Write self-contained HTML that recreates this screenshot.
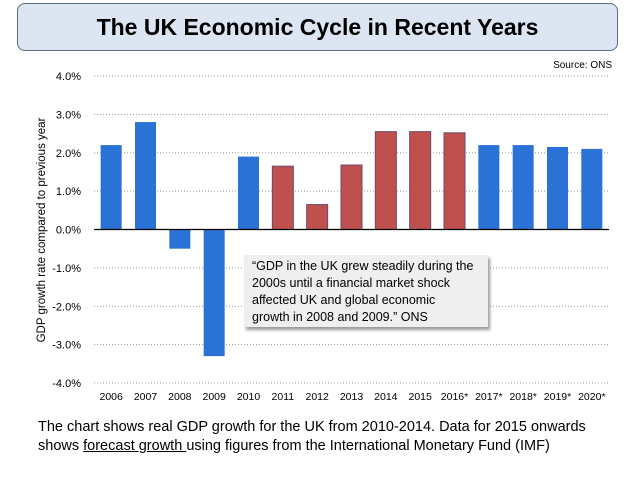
<!DOCTYPE html>
<html><head><meta charset="utf-8"><style>
body{margin:0;width:638px;height:479px;background:#fff;font-family:"Liberation Sans",sans-serif;overflow:hidden;position:relative}
#title{position:absolute;left:17px;top:3px;width:601px;height:48px;border:1.5px solid #5b6b80;border-radius:8px;background:#dce6f2;box-sizing:border-box;text-align:center;font-weight:bold;font-size:23px;line-height:46px;color:#000}
#note{position:absolute;left:38px;top:418px;font-size:14.5px;line-height:19px;color:#000}
#callout{position:absolute;left:244px;top:255px;width:244px;height:72px;background:#efefef;box-shadow:2px 3px 3px #999;font-size:12.5px;line-height:17px;padding:3px 0 0 8px;box-sizing:border-box;color:#000;white-space:nowrap}
</style></head><body>
<div id="title">The UK Economic Cycle in Recent Years</div>
<svg id="chart" width="638" height="479" style="position:absolute;left:0;top:0"></svg>
<div id="callout">“GDP in the UK grew steadily during the<br>2000s until a financial market shock<br>affected UK and global economic<br>growth in 2008 and 2009.” ONS</div>
<div id="note">The chart shows real GDP growth for the UK from 2010-2014. Data for 2015 onwards<br>shows <u>forecast growth </u>using figures from the International Monetary Fund (IMF)</div>
<script>
const categories=["2006","2007","2008","2009","2010","2011","2012","2013","2014","2015","2016*","2017*","2018*","2019*","2020*"];
const values=[2.2,2.8,-0.5,-3.3,1.9,1.65,0.65,1.68,2.55,2.55,2.52,2.2,2.2,2.15,2.1];
const highlighted=[0,0,0,0,0,1,1,1,1,1,1,0,0,0,0];
const ticks=[4,3,2,1,0,-1,-2,-3,-4];
const NS="http://www.w3.org/2000/svg";
const svg=document.getElementById('chart');
const x0=94,x1=609,yTop=76,yBot=383;
const y=v=>yTop+(4-v)/8*(yBot-yTop);
const step=(x1-x0)/categories.length;
const xc=i=>x0+step*(i+0.5);
function mk(t,a){const e=document.createElementNS(NS,t);for(const k in a)e.setAttribute(k,a[k]);svg.appendChild(e);return e;}
ticks.forEach(t=>{
 if(t!==0){const g=mk('line',{x1:x0,x2:x1,y1:y(t),y2:y(t),stroke:'#999','stroke-width':1,'stroke-dasharray':'1,2'});
 
 }
 const l=mk('text',{x:81,y:y(t)+4,'text-anchor':'end','font-size':11,fill:'#000','font-family':'Liberation Sans'});
 l.textContent=t.toFixed(1)+'%';
 
 
});
values.forEach((v,i)=>{
 const r=mk('rect',{x:xc(i)-10.5,y:Math.min(y(v),y(0)),width:21,height:Math.abs(y(v)-y(0)),fill:highlighted[i]?'#c0504d':'#2a72d6',stroke:highlighted[i]?'#6a4a6a':'none','stroke-width':1});
 
 
 const l=mk('text',{x:xc(i),y:400,'text-anchor':'middle','font-size':10.5,fill:'#000','font-family':'Liberation Sans'});
 l.textContent=categories[i];
 
 
});
const z=mk('line',{x1:x0,x2:x1,y1:y(0),y2:y(0),stroke:'#000','stroke-width':1.3});


const yt=mk('text',{transform:'translate(45,230) rotate(-90)','text-anchor':'middle','font-size':11.5,fill:'#000','font-family':'Liberation Sans'});
yt.textContent='GDP growth rate compared to previous year';


const src=mk('text',{x:612,y:68,'text-anchor':'end','font-size':10,fill:'#000','font-family':'Liberation Sans'});
src.textContent='Source: ONS';


</script>
</body></html>
